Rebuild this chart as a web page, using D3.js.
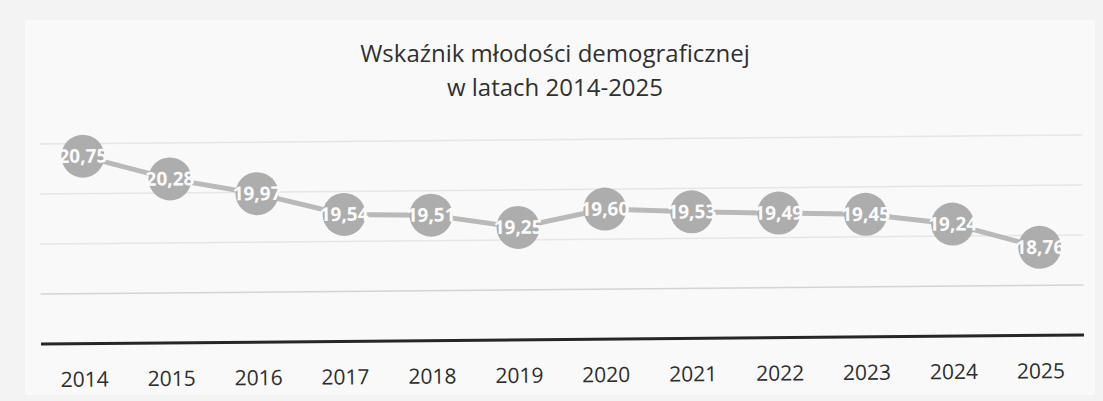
<!DOCTYPE html>
<html>
<head>
<meta charset="utf-8">
<script src="https://cdn.jsdelivr.net/npm/d3@7/dist/d3.min.js"></script>
<style>
  body { margin: 0; background: #f4f4f4; }
  svg { display: block; }
</style>
</head>
<body>
<div class="data-chart"></div>
<script>
// values
var years = ["2014", "2015", "2016", "2017", "2018", "2019", "2020", "2021", "2022", "2023", "2024", "2025"];
var values = [20.75, 20.28, 19.97, 19.54, 19.51, 19.25, 19.60, 19.53, 19.49, 19.45, 19.24, 18.76];
var gridValues = [18, 19, 20, 21];
var titleLines = ["Wskaźnik młodości demograficznej", "w latach 2014-2025"];

var width = 1103,
	height = 401;

var x = d3.scaleBand()
	.domain(years)
	.range([41, 1084]);

var y = d3.scaleLinear()
	.domain([17, 21])
	.range([339.5, 139.5]);

var fmt = function(d) { return d3.format(".2f")(d).replace(".", ","); };

var chart = d3.select(".data-chart")
	.append("svg")
	.attr("width", width)
	.attr("height", height);

chart.append("rect")
	.attr("width", width)
	.attr("height", height)
	.attr("fill", "#f3f3f3");

chart.append("rect")
	.attr("x", 25)
	.attr("y", 20)
	.attr("width", 1070)
	.attr("height", 375)
	.attr("fill", "#f9f9f9");

chart.append("g")
	.attr("id", "title")
	.selectAll("text")
	.data(titleLines)
	.enter()
	.append("text")
	.attr("x", 555)
	.attr("y", function(d, i) { return 62 + i * 34; })
	.attr("text-anchor", "middle")
	.style("font-family", "'Open Sans', sans-serif")
	.style("font-size", "24px")
	.style("font-weight", "500")
	.style("fill", "#303030")
	.text(function(d) { return d; });

// the scan is slightly tilted, so the plot is too
var plot = chart.append("g")
	.attr("transform", "rotate(-0.5,562,339.5)");

plot.append("g")
	.attr("id", "grid")
	.selectAll("line")
	.data(gridValues)
	.enter()
	.append("line")
	.attr("x1", 41)
	.attr("x2", 1084)
	.attr("y1", function(d) { return y(d); })
	.attr("y2", function(d) { return y(d); })
	.style("stroke", function(d) { return d == 18 ? "#d4d4d4" : "#e6e6e6"; })
	.style("stroke-width", "1.5px");

plot.append("line")
	.attr("x1", 41)
	.attr("x2", 1084)
	.attr("y1", y(17))
	.attr("y2", y(17))
	.style("stroke", "#262626")
	.style("stroke-width", "3px");

var axis = plot.append("g")
	.attr("transform", "translate(0," + y(17) + ")")
	.call(d3.axisBottom(x).tickSize(0));
axis.select(".domain").remove();
axis.selectAll("text")
	.attr("y", 43)
	.attr("dy", null)
	.style("font-family", "'Open Sans', sans-serif")
	.style("font-size", "21px")
	.style("fill", "#2e2e2e");

var cx = function(d, i) { return x(years[i]) + x.bandwidth() / 2; };

var line = d3.line()
	.x(cx)
	.y(function(d) { return y(d); });

plot.append("path")
	.datum(values)
	.attr("d", line)
	.style("fill", "none")
	.style("stroke", "#b9b9b9")
	.style("stroke-width", "5px");

var point = plot.selectAll(".pt")
	.data(values)
	.enter()
	.append("g")
	.attr("class", "pt")
	.attr("transform", function(d, i) { return "translate(" + cx(d, i) + "," + y(d) + ")"; });

point.append("circle")
	.attr("r", 21.5)
	.style("fill", "#adadad");

point.append("text")
	.attr("y", 6.5)
	.attr("text-anchor", "middle")
	.style("font-family", "'Open Sans', sans-serif")
	.style("font-weight", "bold")
	.style("font-size", "19px")
	.style("fill", "#fbfbfb")
	.text(fmt);
</script>
</body>
</html>
